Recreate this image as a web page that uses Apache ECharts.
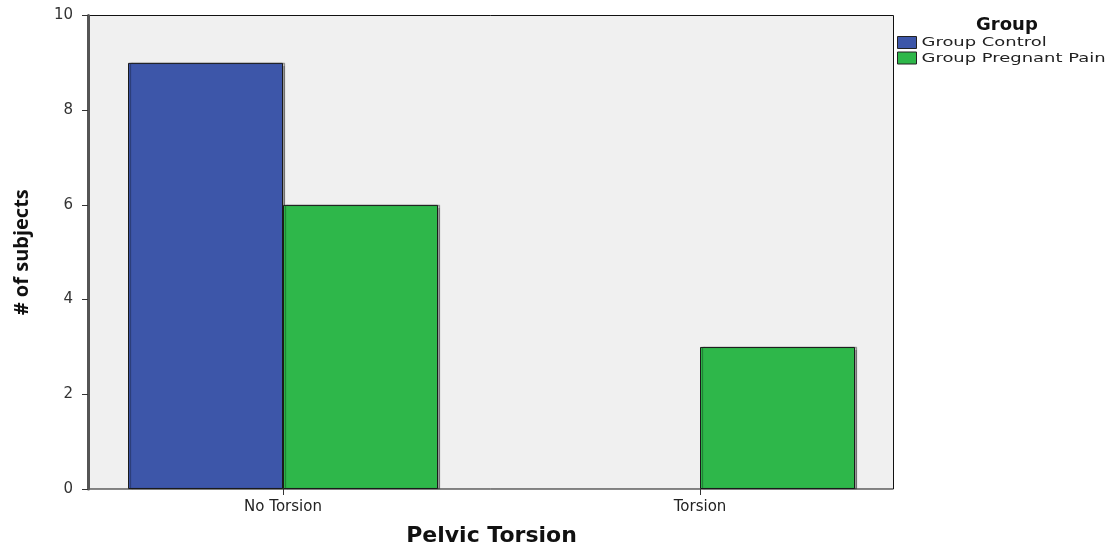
<!DOCTYPE html>
<html><head><meta charset="utf-8">
<script src="https://cdn.jsdelivr.net/npm/echarts@6/dist/echarts.min.js"></script>
<style>html,body{margin:0;padding:0;background:#fff}#c{width:1120px;height:548px}</style>
</head><body><div id="c"></div>
<script>
var categories = ['No Torsion', 'Torsion'];
var seriesNames = ['Group Control', 'Group Pregnant Pain'];
var seriesColors = ['#3d56a9', '#2eb74a'];
var controlValues = [9, 0];
var pregnantValues = [6, 3];
var yMin = 0, yMax = 10, yStep = 2;

var chart = echarts.init(document.getElementById('c'), null, {renderer: 'canvas'});
var tickFont = 'DejaVu Sans';
function barStyle(c) {
  return {color: c, borderColor: '#1a1a1a', borderWidth: 1,
          shadowColor: 'rgba(0,0,0,0.35)', shadowOffsetX: 2, shadowBlur: 1};
}
function barData(vals) {
  return vals.map(function (v) {
    return v === 0 ? {value: v, itemStyle: {borderWidth: 0, shadowColor: 'transparent'}} : v;
  });
}
var legendGraphics = [{type: 'text', x: 976, y: 17, scaleX: 1.06, originX: 0, originY: 0,
  style: {text: 'Group', font: 'bold 17px "DejaVu Sans"', fill: '#111'}}];
seriesNames.forEach(function (n, i) {
  legendGraphics.push({type: 'rect', shape: {x: 897.5, y: 36.5 + i * 15.5, width: 19, height: 12},
    style: {fill: seriesColors[i], stroke: '#222', lineWidth: 1}});
  legendGraphics.push({type: 'text', x: 921.5, y: 43 + i * 15.5, scaleX: 1.38, scaleY: 1, originX: 0, originY: 0,
    style: {text: n, font: '13px "DejaVu Sans"', fill: '#222', verticalAlign: 'middle'}});
});

chart.setOption({
  animation: false,
  grid: [
    {left: 88, right: 226.5, top: 15.5, bottom: 59, show: true, backgroundColor: '#f0f0f0', borderColor: '#111', borderWidth: 1, outerBoundsMode: 'none', containLabel: false},
    {left: 74.5, right: 211.5, top: 15.5, bottom: 59, outerBoundsMode: 'none', containLabel: false}
  ],
  xAxis: [
    {gridIndex: 0, type: 'category', data: categories, show: false},
    {gridIndex: 1, type: 'category', data: categories,
     axisLine: {show: false},
     axisTick: {show: true, alignWithLabel: true, length: 6, lineStyle: {color: '#333', width: 1}},
     axisLabel: {color: '#222', fontFamily: tickFont, fontSize: 15, margin: 11},
     name: 'Pelvic Torsion', nameLocation: 'middle', nameGap: 36,
     nameTextStyle: {fontFamily: 'DejaVu Sans', fontWeight: 'bold', fontSize: 22, color: '#111'}}
  ],
  yAxis: [
    {gridIndex: 0, type: 'value', min: yMin, max: yMax, interval: yStep,
     splitLine: {show: false},
     axisLine: {show: true, lineStyle: {color: '#555', width: 3}},
     axisTick: {show: true, length: 6, lineStyle: {color: '#333', width: 1}},
     axisLabel: {color: '#333', fontFamily: tickFont, fontSize: 15, margin: 15},
     name: '# of subjects', nameLocation: 'middle', nameRotate: 90, nameGap: 56,
     nameTextStyle: {fontFamily: '"Open Sans", "DejaVu Sans Condensed", sans-serif', fontWeight: 'bold', fontSize: 20, color: '#111'}},
    {gridIndex: 1, type: 'value', min: yMin, max: yMax, interval: yStep, show: false}
  ],
  graphic: legendGraphics,
  series: [
    {name: seriesNames[0], type: 'bar', xAxisIndex: 1, yAxisIndex: 1, data: barData(controlValues),
     barWidth: 155, barGap: '0%', itemStyle: barStyle(seriesColors[0])},
    {name: seriesNames[1], type: 'bar', xAxisIndex: 1, yAxisIndex: 1, data: barData(pregnantValues),
     barWidth: 155, barGap: '0%', itemStyle: barStyle(seriesColors[1])}
  ]
});
</script></body></html>
